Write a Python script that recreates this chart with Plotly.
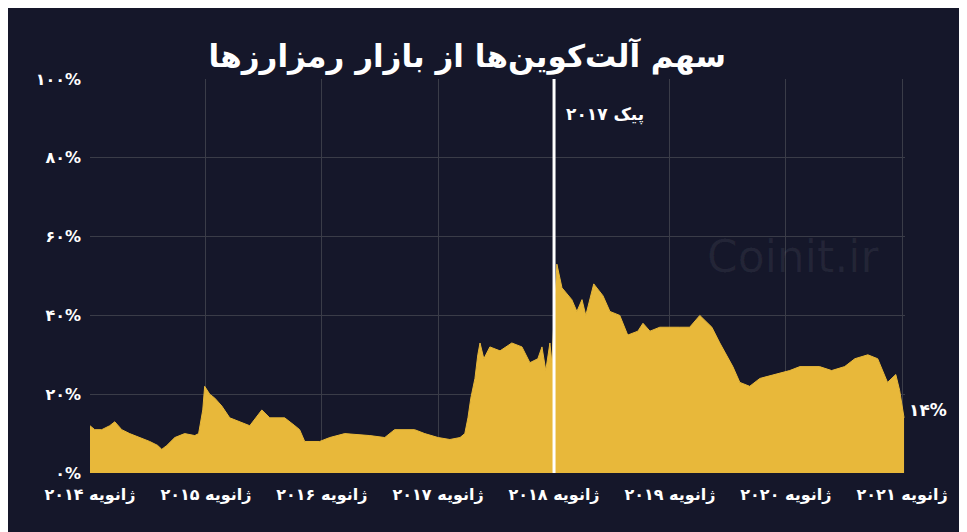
import plotly.graph_objects as go
import datetime

def yx(x):
    y = 2014 + (x - 90) / 116.0
    yr = int(y); frac = y - yr
    return (datetime.date(yr, 1, 1) + datetime.timedelta(days=int(frac * 365))).isoformat()

xpix = [90,95,102,110,115,122,130,140,150,158,162,167,175,185,195,199,203,205,210,215,222,230,240,250,256,262,270,285,295,300,305,320,330,345,370,385,395,415,425,438,450,460,465,468,471,475,478,480,484,490,500,512,522,530,538,542,546,550,552,554,556,557,562,572,577,582,586,594,603,610,620,628,638,643,650,660,680,690,700,712,720,733,740,750,760,775,790,800,820,832,845,855,868,878,888,896,900,904]
share = [12,11,11,12,13,11,10,9,8,7,6,7,9,10,9.5,10,16,22,20,19,17,14,13,12,14,16,14,14,12,11,8,8,9,10,9.5,9,11,11,10,9,8.5,9,10,14,19,24,30,33,29,32,31,33,32,28,29,32,26,33,28,40,47,53,47,44,41,44,40,48,45,41,40,35,36,38,36,37,37,37,40,37,33,27,23,22,24,25,26,27,27,26,27,29,30,29,23,25,21,14]
dates = [yx(x) for x in xpix]
years = [2014,2015,2016,2017,2018,2019,2020,2021]
fa = str.maketrans("0123456789", "۰۱۲۳۴۵۶۷۸۹")
xticks = [f"{y}-01-01" for y in years]
xlabels = [f"{str(y).translate(fa)} ژانویه" for y in years]
yticks = [0,20,40,60,80,100]
ylabels = [f"{str(v).translate(fa)}%" for v in yticks]

bg = "#15172a"
fig = go.Figure(go.Scatter(x=dates, y=share, mode="lines", line=dict(color="#e8b83a", width=1),
                           fill="tozeroy", fillcolor="#e8b83a", hoverinfo="skip"))
fig.add_shape(type="line", x0="2018-01-01", x1="2018-01-01", y0=0, y1=100, xref="x", yref="y",
              line=dict(color="white", width=3))
fig.add_annotation(x="2018-01-01", y=91, xref="x", yref="y", text="<b>۲۰۱۷ پیک</b>", showarrow=False,
                   xanchor="left", xshift=10, font=dict(color="white", size=17))
fig.add_annotation(x=1.0, y=16, xref="paper", yref="y", text="<b>۱۴%</b>", showarrow=False,
                   xanchor="left", xshift=2, font=dict(color="white", size=17))
fig.add_annotation(x=0.97, y=0.55, xref="paper", yref="paper", text="Coinit.ir", showarrow=False,
                   font=dict(color="rgba(255,255,255,0.06)", size=44, family="DejaVu Sans"))
fig.update_layout(
    width=967, height=532, paper_bgcolor=bg, plot_bgcolor=bg,
    margin=dict(l=82, r=70, t=71, b=67), showlegend=False,
    font=dict(family="DejaVu Sans", color="white", size=15),
    title=dict(text="<b>سهم آلت‌کوین‌ها از بازار رمزارزها</b>", x=0.475, y=0.93, xanchor="center",
               font=dict(size=31, color="white")),
    xaxis=dict(range=["2014-01-01", "2021-01-10"], tickvals=xticks, ticktext=[f"<b>{t}</b>" for t in xlabels],
               showgrid=True, gridcolor="#3a3c48", gridwidth=1, zeroline=False, showline=False,
               tickfont=dict(size=16, color="white"), ticks="", ticklabelstandoff=10),
    yaxis=dict(range=[0, 100], tickvals=yticks, ticktext=[f"<b>{t}</b>" for t in ylabels], showgrid=True, gridcolor="#3a3c48",
               zeroline=False, tickfont=dict(size=16, color="white"), ticks="", ticklabelstandoff=8),
)
fig.write_html("out.html")
